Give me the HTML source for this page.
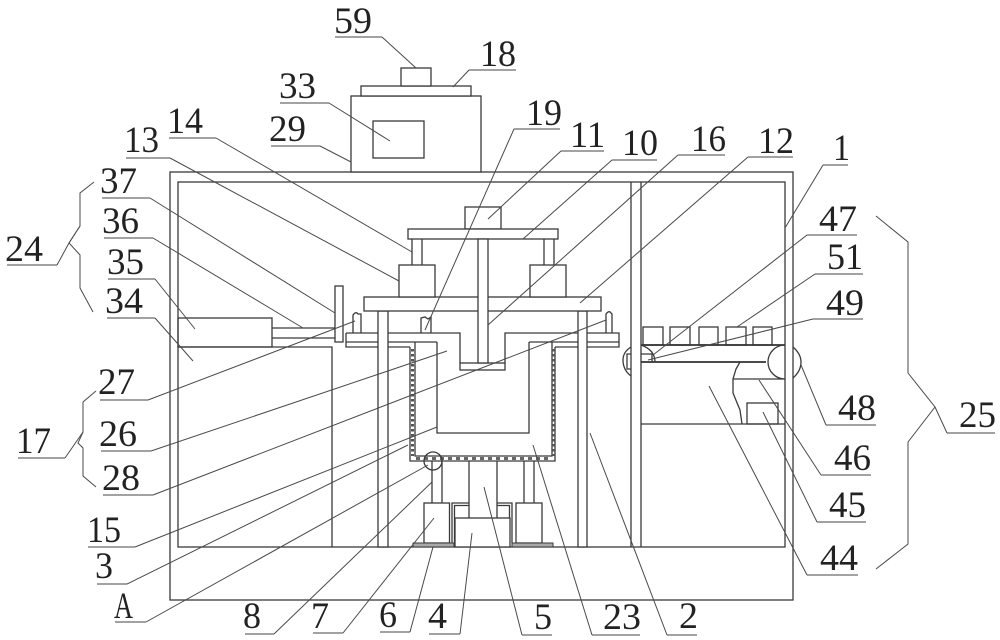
<!DOCTYPE html>
<html>
<head>
<meta charset="utf-8">
<style>
html,body{margin:0;padding:0;background:#fff;width:1000px;height:640px;overflow:hidden}
svg{display:block}
.s{fill:none;stroke:#3a3a3a;stroke-width:1.3}
.w{fill:#fff;stroke:#3a3a3a;stroke-width:1.3}
.l{fill:none;stroke:#4a4a4a;stroke-width:1}
.u{fill:none;stroke:#444;stroke-width:1.1}
text{font-family:"Liberation Serif",serif;font-size:37px;fill:#222}
</style>
</head>
<body>
<svg width="1000" height="640" viewBox="0 0 1000 640" xmlns="http://www.w3.org/2000/svg">
<!-- outer frame -->
<rect class="s" x="170" y="172" width="623" height="428"/>
<rect class="s" x="178" y="182" width="607" height="365"/>
<!-- top unit -->
<rect class="w" x="351" y="96" width="130" height="76"/>
<rect class="s" x="373" y="121" width="51" height="37"/>
<rect class="w" x="361" y="86" width="110" height="10"/>
<rect class="w" x="401" y="68" width="30" height="18"/>
<!-- column -->
<path class="s" d="M631 182V547M641 182V547"/>
<!-- left block 34, motor 35 -->
<path class="s" d="M178 347H332V547"/>
<rect class="s" x="178" y="318" width="94" height="29"/>
<path class="s" d="M272 328H335M272 338H335"/>
<rect class="w" x="335" y="286" width="8" height="56"/>
<!-- lower plate / lid -->
<path class="s" d="M346 333H460V363M505 363V333H619V347H555M346 333V347H410M346 342H437M529 342H619"/>
<rect class="s" x="460" y="363" width="45" height="7"/>
<!-- clips -->
<path class="s" d="M353 333V315Q356 311 358 314L361 314V333"/>
<path class="s" d="M421 333V318L425 317L428 319L431 317V333"/>
<path class="s" d="M606 333V314Q609 310 611 313L612 314V333"/>
<!-- vessel -->
<path class="s" d="M410 347V461H555V347"/>
<path class="s" d="M415 342V456H552V342"/>
<path class="s" d="M437 342V433H529V342"/>
<path d="M412.5 349V456M553.5 349V456" fill="none" stroke="#555" stroke-width="3" stroke-dasharray="2.5 2.5"/>
<path d="M416 458.5H552" fill="none" stroke="#666" stroke-width="3" stroke-dasharray="4 4"/>
<!-- legs -->
<rect class="w" x="378" y="311" width="10" height="236"/>
<rect class="w" x="578" y="311" width="9" height="236"/>
<!-- upper plate -->
<rect class="w" x="364" y="297" width="237" height="14"/>
<rect class="w" x="399" y="265" width="36" height="32"/>
<rect class="w" x="530" y="265" width="36" height="32"/>
<path class="s" d="M412 239V265M422 239V265M544 239V265M554 239V265"/>
<rect class="w" x="465" y="207" width="36" height="22"/>
<rect class="w" x="408" y="229" width="150" height="10"/>
<rect class="w" x="478" y="239" width="10" height="124"/>
<!-- base assembly -->
<path class="s" d="M432 461V503M442 461V503M524 461V503M534 461V503"/>
<path class="s" d="M469 461V518M497 461V518"/>
<rect class="s" x="424" y="503" width="25.500" height="40"/>
<rect class="s" x="516" y="503" width="26" height="40"/>
<path class="s" d="M452 543V503H469M454.500 547V505.500H469M497 503H512V543M497 505.500H509.500V547"/>
<rect x="413" y="543" width="41" height="4" fill="#aaa" stroke="#3a3a3a" stroke-width="1"/>
<rect x="512" y="543" width="41" height="4" fill="#aaa" stroke="#3a3a3a" stroke-width="1"/>
<rect class="w" x="455" y="518" width="55" height="29"/>
<circle class="s" cx="433" cy="461" r="9"/>
<!-- right conveyor -->
<rect class="s" x="643" y="327" width="20" height="18"/>
<rect class="s" x="670" y="327" width="20" height="18"/>
<rect class="s" x="699" y="327" width="19" height="18"/>
<rect class="s" x="726" y="327" width="20" height="18"/>
<rect class="s" x="753" y="327" width="19" height="18"/>
<path d="M641 345H785" fill="none" stroke="#333" stroke-width="1.8"/>
<path d="M641 362H766" fill="none" stroke="#333" stroke-width="1.8"/>
<path class="s" d="M641 345Q655 350 655 362M641 354H652V362"/>
<path class="s" d="M785 345A17 17 0 0 0 785 379M733 379H785"/>
<path class="s" d="M793 347Q801 354 801 362Q801 371 793 378"/>
<path class="s" d="M631 347Q623 352 623 360Q623 370 631 376M631 354H627V369H631"/>
<path class="s" d="M740 362L736 369L733 379V393L740 410L742 424"/>
<rect class="s" x="747" y="403" width="31" height="21"/>
<path class="s" d="M641 424H785"/>
<!-- leaders -->
<path class="l" d="M382 37L416 68"/><path class="u" d="M335 37H382"/>
<path class="l" d="M469 70L453 87"/><path class="u" d="M469 70H516"/>
<path class="l" d="M329 103L390 141"/><path class="u" d="M280 103H329"/>
<path class="l" d="M320 146L351 162"/><path class="u" d="M271 146H320"/>
<path class="l" d="M216 138L412 252"/><path class="u" d="M169 138H216"/>
<path class="l" d="M170 158L399 281"/><path class="u" d="M126 158H170"/>
<path class="l" d="M514 129L425 330"/><path class="u" d="M514 129H560"/>
<path class="l" d="M561 151L488 219"/><path class="u" d="M561 151H604"/>
<path class="l" d="M612 160L523 239"/><path class="u" d="M612 160H657"/>
<path class="l" d="M678 155L488 325"/><path class="u" d="M678 155H725"/>
<path class="l" d="M748 157L580 303"/><path class="u" d="M748 157H793"/>
<path class="l" d="M823 165L785 228"/><path class="u" d="M823 165H848"/>
<path class="l" d="M807 235L653 355"/><path class="u" d="M807 235H857"/>
<path class="l" d="M815 274L737 327"/><path class="u" d="M815 274H863"/>
<path class="l" d="M813 319L648 360"/><path class="u" d="M813 319H863"/>
<path class="l" d="M826 425L801 365"/><path class="u" d="M826 425H876"/>
<path class="l" d="M821 475L759 380"/><path class="u" d="M821 475H871"/>
<path class="l" d="M817 522L763 412"/><path class="u" d="M817 522H866"/>
<path class="l" d="M807 575L709 386"/><path class="u" d="M807 575H858"/>
<path class="l" d="M150 198L335 313"/><path class="u" d="M102 198H150"/>
<path class="l" d="M153 238L303 328"/><path class="u" d="M104 238H153"/>
<path class="l" d="M155 279L195 329"/><path class="u" d="M108 279H155"/>
<path class="l" d="M155 318L193 361"/><path class="u" d="M107 318H155"/>
<path class="l" d="M148 400L355 321"/><path class="u" d="M100 400H148"/>
<path class="l" d="M151 451L447 351"/><path class="u" d="M101 451H151"/>
<path class="l" d="M153 495L606 320"/><path class="u" d="M103 495H153"/>
<path class="l" d="M135 547L437 427"/><path class="u" d="M88 547H135"/>
<path class="l" d="M127 584L408 445"/><path class="u" d="M97 584H127"/>
<path class="l" d="M146 622L428 465"/><path class="u" d="M115 622H146"/>
<path class="l" d="M274 634L432 482"/><path class="u" d="M245 634H274"/>
<path class="l" d="M343 633L434 518"/><path class="u" d="M313 633H343"/>
<path class="l" d="M410 632L433 547"/><path class="u" d="M380 632H410"/>
<path class="l" d="M460 634L472 533"/><path class="u" d="M429 634H460"/>
<path class="l" d="M522 635L484 487"/><path class="u" d="M522 635H552"/>
<path class="l" d="M592 635L533 445"/><path class="u" d="M592 635H640"/>
<path class="l" d="M667 635L590 433"/><path class="u" d="M667 635H697"/>
<!-- braces -->
<path class="l" d="M876 216L908 242V373L935 407L908 442V544L876 569"/>
<path class="l" d="M935 407L947 433"/><path class="u" d="M947 433H995"/>
<path class="l" d="M94 182L80 193V226L69 243L80 255V288L93 312"/>
<path class="l" d="M57 265L69 243L80 226"/><path class="u" d="M7 265H57"/>
<path class="l" d="M96 391L83 402V432L78 443L83 448V476L96 487"/>
<path class="l" d="M65 458L83 432"/><path class="u" d="M18 458H65"/>
<!-- labels -->
<text x="334" y="33" textLength="38" lengthAdjust="spacingAndGlyphs">59</text>
<text x="480" y="66" textLength="36" lengthAdjust="spacingAndGlyphs">18</text>
<text x="279" y="98" textLength="37" lengthAdjust="spacingAndGlyphs">33</text>
<text x="269" y="141" textLength="37" lengthAdjust="spacingAndGlyphs">29</text>
<text x="167" y="133" textLength="36" lengthAdjust="spacingAndGlyphs">14</text>
<text x="124" y="152" textLength="35" lengthAdjust="spacingAndGlyphs">13</text>
<text x="526" y="125" textLength="36" lengthAdjust="spacingAndGlyphs">19</text>
<text x="570" y="147" textLength="35" lengthAdjust="spacingAndGlyphs">11</text>
<text x="622" y="155" textLength="36" lengthAdjust="spacingAndGlyphs">10</text>
<text x="691" y="151" textLength="35" lengthAdjust="spacingAndGlyphs">16</text>
<text x="758" y="153" textLength="36" lengthAdjust="spacingAndGlyphs">12</text>
<text x="833" y="160" textLength="17" lengthAdjust="spacingAndGlyphs">1</text>
<text x="819" y="231" textLength="38" lengthAdjust="spacingAndGlyphs">47</text>
<text x="827" y="269" textLength="36" lengthAdjust="spacingAndGlyphs">51</text>
<text x="826" y="315" textLength="38" lengthAdjust="spacingAndGlyphs">49</text>
<text x="838" y="420" textLength="38" lengthAdjust="spacingAndGlyphs">48</text>
<text x="834" y="470" textLength="37" lengthAdjust="spacingAndGlyphs">46</text>
<text x="829" y="517" textLength="37" lengthAdjust="spacingAndGlyphs">45</text>
<text x="820" y="570" textLength="38" lengthAdjust="spacingAndGlyphs">44</text>
<text x="959" y="427" textLength="37" lengthAdjust="spacingAndGlyphs">25</text>
<text x="5" y="261" textLength="38" lengthAdjust="spacingAndGlyphs">24</text>
<text x="100" y="193" textLength="37" lengthAdjust="spacingAndGlyphs">37</text>
<text x="102" y="233" textLength="37" lengthAdjust="spacingAndGlyphs">36</text>
<text x="107" y="274" textLength="37" lengthAdjust="spacingAndGlyphs">35</text>
<text x="105" y="313" textLength="38" lengthAdjust="spacingAndGlyphs">34</text>
<text x="98" y="394" textLength="37" lengthAdjust="spacingAndGlyphs">27</text>
<text x="99" y="446" textLength="38" lengthAdjust="spacingAndGlyphs">26</text>
<text x="102" y="490" textLength="38" lengthAdjust="spacingAndGlyphs">28</text>
<text x="16" y="453" textLength="35" lengthAdjust="spacingAndGlyphs">17</text>
<text x="87" y="542" textLength="34" lengthAdjust="spacingAndGlyphs">15</text>
<text x="95" y="578" textLength="18" lengthAdjust="spacingAndGlyphs">3</text>
<text x="114" y="618" textLength="19" lengthAdjust="spacingAndGlyphs">A</text>
<text x="243" y="628" textLength="18" lengthAdjust="spacingAndGlyphs">8</text>
<text x="311" y="628" textLength="18" lengthAdjust="spacingAndGlyphs">7</text>
<text x="379" y="627" textLength="18" lengthAdjust="spacingAndGlyphs">6</text>
<text x="428" y="628" textLength="19" lengthAdjust="spacingAndGlyphs">4</text>
<text x="534" y="629" textLength="18" lengthAdjust="spacingAndGlyphs">5</text>
<text x="603" y="629" textLength="38" lengthAdjust="spacingAndGlyphs">23</text>
<text x="679" y="628" textLength="19" lengthAdjust="spacingAndGlyphs">2</text>
</svg>
</body>
</html>
